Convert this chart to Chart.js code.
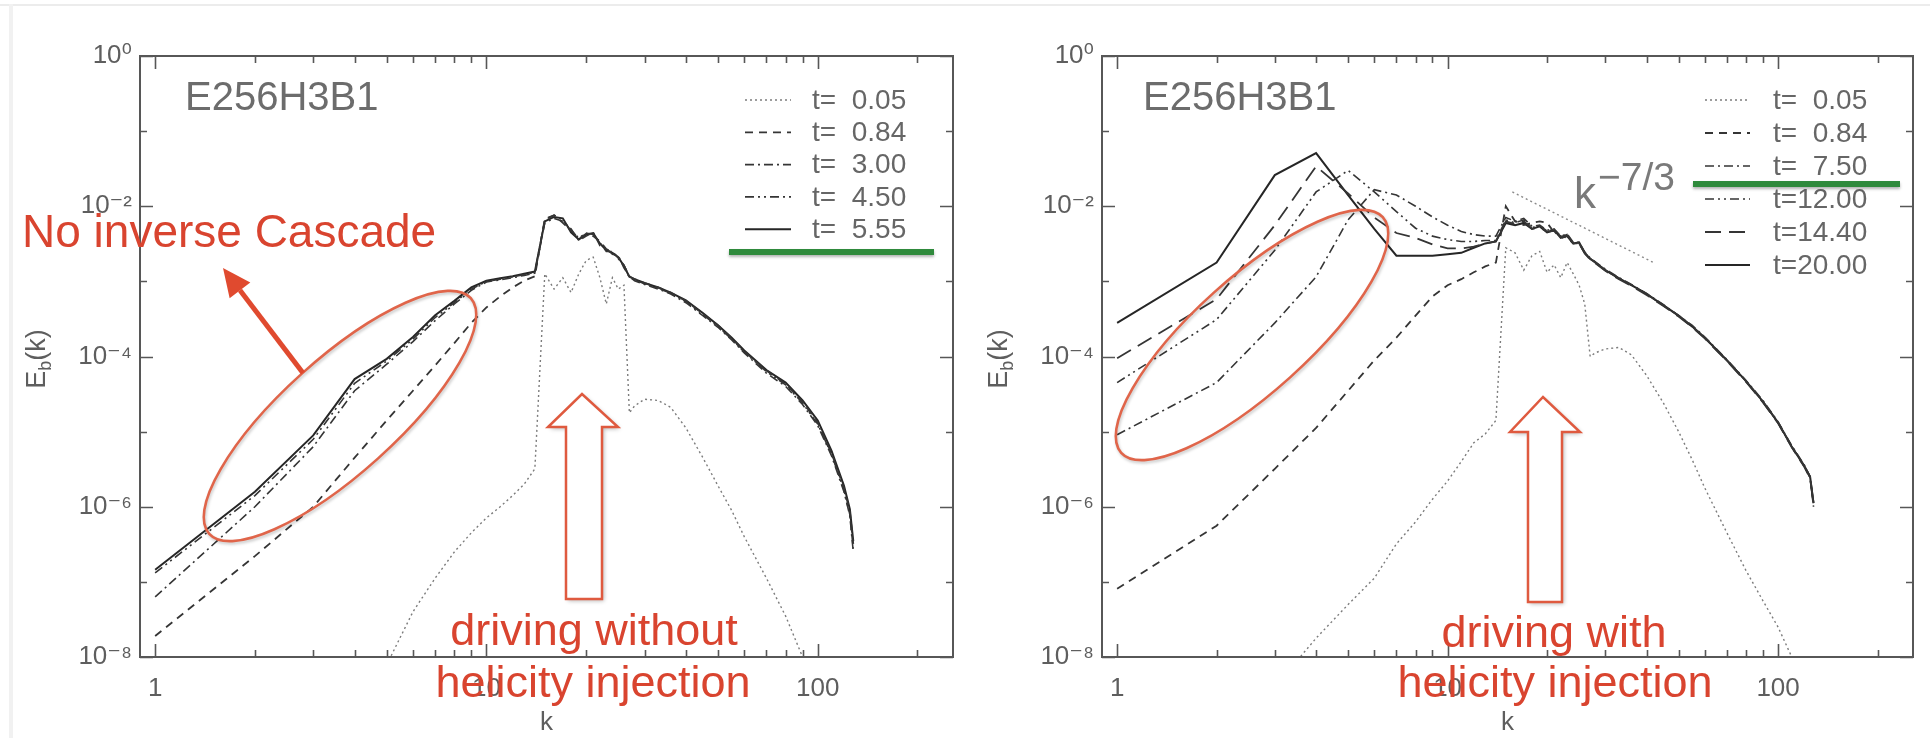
<!DOCTYPE html>
<html>
<head>
<meta charset="utf-8">
<script src="https://cdn.jsdelivr.net/npm/chart.js@4.4.1/dist/chart.umd.min.js"></script>
<style>
  html, body { margin: 0; padding: 0; background: #fff; }
  body { width: 1930px; height: 738px; position: relative; overflow: hidden; }
  canvas { position: absolute; top: 0; }
  #cLeft { left: 0; }
  #cRight { left: 965px; }
  .edge-top { position: absolute; left: 0; top: 4px; width: 1930px; height: 2px; background: #ececec; }
  .edge-left { position: absolute; left: 9px; top: 4px; width: 4px; height: 734px; background: #f1f1f1; }
</style>
</head>
<body>
<div class="edge-top"></div><div class="edge-left"></div>
<canvas id="cLeft" width="965" height="738"></canvas>
<canvas id="cRight" width="965" height="738"></canvas>
<script>
const FONT = "'Liberation Sans', 'DejaVu Sans', Arial, sans-serif";
const INK = '#5e5e5e';
const RED = '#d9442f';

// ─── DATA ─────────────────────────────────────────────────────────────────────
// wavenumbers where the spectra are read off
const kGrid = [1, 2, 3, 4, 5, 6, 7, 8, 9, 10, 11, 12, 13, 14, 15, 16, 17, 18, 19, 20,
  21, 22, 23, 24, 25, 26, 27, 28, 30, 33, 36, 40, 45, 50, 55, 60, 70, 80, 90, 100,
  110, 120, 125, 128];

const xTickVals   = [1, 2, 3, 4, 5, 6, 7, 8, 9, 10, 20, 30, 40, 50, 60, 70, 80, 90, 100, 200];
const xTickLabels = ['1', '', '', '', '', '', '', '', '', '10', '', '', '', '', '', '', '', '', '100', ''];
const yTickVals   = [1e-8, 1e-7, 1e-6, 1e-5, 1e-4, 1e-3, 1e-2, 1e-1, 1];
const yTickLabels = ['10⁻⁸', '', '10⁻⁶', '', '10⁻⁴', '', '10⁻²', '', '10⁰'];

// left panel: driving without helicity injection
const leftLabels = ['t=\u20070.05', 't=\u20070.84', 't=\u20073.00', 't=\u20074.50', 't=\u20075.55'];
const leftStyles = ['dotted', 'dashed', 'dashDot', 'dashDotDot', 'solid'];
const eL_005 = [null, null, null, null, 7.9e-9, 4.0e-8, 1.12e-7, 2.5e-7, 4.5e-7, 7.1e-7, 1.0e-6, 1.41e-6, 2.0e-6, 3.2e-6,
  1.26e-3, 7.9e-4, 1.12e-3, 7.1e-4, 1.26e-3, 1.9e-3, 2.1e-3, 1.12e-3, 5.0e-4, 1.12e-3, 7.9e-4, 8.9e-4, 1.78e-5, 2.2e-5,
  2.7e-5, 2.6e-5, 2.1e-5, 1.12e-5, 4.5e-6, 1.9e-6, 8.9e-7, 4.0e-7, 1.12e-7, 3.5e-8, 1.0e-8, 4.0e-9, null, null, null, null];
const eL_084 = [1.9e-8, 2.2e-7, 1.0e-6, 4.5e-6, 1.41e-5, 3.5e-5, 7.6e-5, 1.51e-4, 2.8e-4, 4.5e-4, 6.3e-4, 8.3e-4, 1.02e-3, 1.17e-3,
  6.8e-3, 7.6e-3, 6.0e-3, 4.8e-3, 3.7e-3, 4.3e-3, 4.0e-3, 3.4e-3, 2.7e-3, 2.45e-3, 2.05e-3, 1.62e-3, 1.17e-3, 1.07e-3,
  9.5e-4, 8.3e-4, 7.1e-4, 5.5e-4, 3.7e-4, 2.6e-4, 1.74e-4, 1.17e-4, 6.5e-5, 4.3e-5, 2.5e-5, 1.32e-5, 5.2e-6, 1.78e-6, 8.7e-7, 3.2e-7];
const eL_300 = [6.3e-8, 1.0e-6, 6.3e-6, 3.5e-5, 7.9e-5, 1.58e-4, 3.0e-4, 5.0e-4, 7.6e-4, 9.8e-4, 1.05e-3, 1.12e-3, 1.2e-3, 1.29e-3,
  6.0e-3, 6.9e-3, 6.3e-3, 5.0e-3, 3.5e-3, 4.0e-3, 4.5e-3, 3.0e-3, 2.75e-3, 2.3e-3, 2.2e-3, 1.51e-3, 1.17e-3, 1.02e-3,
  9.1e-4, 7.9e-4, 6.8e-4, 5.2e-4, 3.5e-4, 2.45e-4, 1.66e-4, 1.12e-4, 6.0e-5, 4.0e-5, 2.3e-5, 1.2e-5, 4.8e-6, 1.58e-6, 7.6e-7, 2.5e-7];
const eL_450 = [1.32e-7, 1.41e-6, 7.9e-6, 4.4e-5, 8.7e-5, 1.70e-4, 3.3e-4, 5.2e-4, 7.9e-4, 1.0e-3, 1.07e-3, 1.15e-3, 1.23e-3, 1.32e-3,
  6.6e-3, 7.6e-3, 6.6e-3, 4.7e-3, 3.8e-3, 4.4e-3, 4.2e-3, 3.3e-3, 2.5e-3, 2.5e-3, 2.0e-3, 1.66e-3, 1.12e-3, 1.05e-3,
  9.3e-4, 8.1e-4, 6.9e-4, 5.4e-4, 3.6e-4, 2.5e-4, 1.70e-4, 1.15e-4, 6.3e-5, 4.2e-5, 2.4e-5, 1.26e-5, 5.0e-6, 1.66e-6, 7.9e-7, 2.8e-7];
const eL_555 = [1.45e-7, 1.58e-6, 8.9e-6, 5.0e-5, 9.3e-5, 1.82e-4, 3.55e-4, 5.5e-4, 8.3e-4, 1.02e-3, 1.10e-3, 1.17e-3, 1.26e-3, 1.35e-3,
  6.3e-3, 7.2e-3, 6.9e-3, 4.5e-3, 3.6e-3, 4.2e-3, 4.4e-3, 3.2e-3, 2.6e-3, 2.4e-3, 2.1e-3, 1.6e-3, 1.15e-3, 1.07e-3,
  9.5e-4, 8.3e-4, 7.1e-4, 5.6e-4, 3.8e-4, 2.6e-4, 1.78e-4, 1.2e-4, 6.6e-5, 4.5e-5, 2.6e-5, 1.41e-5, 5.6e-6, 1.9e-6, 9.3e-7, 3.5e-7];

// right panel: driving with helicity injection
const rightLabels = ['t=\u20070.05', 't=\u20070.84', 't=\u20077.50', 't=12.00', 't=14.40', 't=20.00'];
const rightStyles = ['dotted', 'dashed', 'dashDot', 'dashDotDot', 'longDash', 'solid'];
const eR_005 = [null, null, 4.0e-9, 1.78e-8, 5.0e-8, 1.12e-7, 3.2e-7, 6.3e-7, 1.26e-6, 2.2e-6, 4.0e-6, 7.1e-6, 9.3e-6, 1.41e-5,
  2.8e-3, 2.4e-3, 1.41e-3, 2.2e-3, 2.5e-3, 1.32e-3, 1.66e-3, 1.12e-3, 1.78e-3, 1.26e-3, 8.9e-4, 5.0e-4, 1.0e-4, 1.12e-4,
  1.26e-4, 1.32e-4, 1.05e-4, 5.6e-5, 2.4e-5, 1.0e-5, 4.2e-6, 1.78e-6, 4.5e-7, 1.41e-7, 5.6e-8, 2.5e-8, 1.0e-8, 4.0e-9, null, null];
const eR_084 = [8.1e-8, 5.6e-7, 3.2e-6, 1.12e-5, 3.5e-5, 8.9e-5, 1.78e-4, 3.5e-4, 6.3e-4, 8.9e-4, 1.07e-3, 1.32e-3, 1.58e-3, 1.78e-3,
  1.0e-2, 6.3e-3, 5.6e-3, 6.0e-3, 6.3e-3, 6.0e-3, 4.5e-3, 4.0e-3, 3.8e-3, 3.2e-3, 3.2e-3, 2.4e-3, 2.0e-3, 1.78e-3,
  1.41e-3, 1.1e-3, 8.9e-4, 6.8e-4, 4.8e-4, 3.5e-4, 2.5e-4, 1.78e-4, 8.9e-5, 4.7e-5, 2.5e-5, 1.32e-5, 6.3e-6, 3.5e-6, 2.5e-6, 1.12e-6];
const eR_750 = [9.1e-6, 4.5e-5, 2.8e-4, 1.15e-3, 6.6e-3, 1.66e-2, 1.41e-2, 1.0e-2, 7.2e-3, 5.6e-3, 4.6e-3, 4.2e-3, 4.0e-3, 4.0e-3,
  7.1e-3, 6.3e-3, 6.9e-3, 5.4e-3, 5.6e-3, 4.8e-3, 5.0e-3, 4.0e-3, 4.3e-3, 3.3e-3, 3.3e-3, 2.45e-3, 2.05e-3, 1.82e-3,
  1.45e-3, 1.12e-3, 9.1e-4, 6.9e-4, 4.9e-4, 3.5e-4, 2.6e-4, 1.82e-4, 9.1e-5, 4.8e-5, 2.6e-5, 1.35e-5, 6.5e-6, 3.6e-6, 2.5e-6, 1.17e-6];
const eR_1200 = [4.5e-5, 3.1e-4, 2.6e-3, 1.55e-2, 3.0e-2, 1.55e-2, 8.5e-3, 5.1e-3, 4.0e-3, 3.6e-3, 3.4e-3, 3.4e-3, 3.5e-3, 3.5e-3,
  6.6e-3, 6.0e-3, 6.6e-3, 5.2e-3, 5.5e-3, 4.7e-3, 4.9e-3, 3.9e-3, 4.2e-3, 3.2e-3, 3.2e-3, 2.4e-3, 2.0e-3, 1.78e-3,
  1.41e-3, 1.1e-3, 8.9e-4, 6.8e-4, 4.8e-4, 3.5e-4, 2.5e-4, 1.78e-4, 8.9e-5, 4.7e-5, 2.5e-5, 1.32e-5, 6.3e-6, 3.5e-6, 2.4e-6, 1.0e-6];
const eR_1440 = [9.5e-5, 5.8e-4, 5.6e-3, 3.4e-2, 1.48e-2, 7.1e-3, 4.4e-3, 3.8e-3, 3.1e-3, 2.75e-3, 2.75e-3, 2.9e-3, 3.2e-3, 3.4e-3,
  6.3e-3, 5.8e-3, 6.3e-3, 5.0e-3, 5.2e-3, 4.6e-3, 4.7e-3, 3.7e-3, 4.1e-3, 3.2e-3, 3.2e-3, 2.35e-3, 1.95e-3, 1.74e-3,
  1.38e-3, 1.07e-3, 8.7e-4, 6.6e-4, 4.7e-4, 3.4e-4, 2.45e-4, 1.74e-4, 8.7e-5, 4.6e-5, 2.45e-5, 1.29e-5, 6.2e-6, 3.4e-6, 2.4e-6, 1.07e-6];
const eR_2000 = [2.8e-4, 1.78e-3, 2.6e-2, 5.1e-2, 1.41e-2, 5.0e-3, 2.2e-3, 2.2e-3, 2.2e-3, 2.3e-3, 2.4e-3, 2.8e-3, 3.2e-3, 3.4e-3,
  6.0e-3, 5.6e-3, 6.0e-3, 5.0e-3, 5.4e-3, 4.5e-3, 4.8e-3, 3.8e-3, 4.0e-3, 3.2e-3, 3.3e-3, 2.4e-3, 2.0e-3, 1.78e-3,
  1.41e-3, 1.1e-3, 8.9e-4, 6.8e-4, 4.8e-4, 3.5e-4, 2.5e-4, 1.78e-4, 8.9e-5, 4.7e-5, 2.5e-5, 1.32e-5, 6.3e-6, 3.5e-6, 2.5e-6, 1.12e-6];

// k^-7/3 guide line end points
const kRef = [15.7, 42];
const eRef = [1.55e-2, 1.78e-3];

// ─── STYLES ───────────────────────────────────────────────────────────────────
const STYLE = {
  dotted:     { dash: [2, 3],             color: '#7c7c7c', width: 1.4 },
  dashed:     { dash: [8, 6],             color: '#353535', width: 1.8 },
  dashDot:    { dash: [9, 4, 2, 4],       color: '#353535', width: 1.6 },
  dashDotDot: { dash: [9, 4, 2, 4, 2, 4], color: '#353535', width: 1.6 },
  longDash:   { dash: [16, 8],            color: '#353535', width: 1.8 },
  solid:      { dash: [],                 color: '#262626', width: 2 }
};

function makeSets(series, styles, labels) {
  return series.map((vals, i) => {
    const st = STYLE[styles[i]];
    return {
      label: labels[i],
      data: kGrid.map((k, j) => ({ x: k, y: vals[j] })),
      borderColor: st.color, borderWidth: st.width, borderDash: st.dash,
      pointRadius: 0, tension: 0, fill: false, spanGaps: false
    };
  });
}

// ─── DECORATION PLUGIN (frame, inward ticks, legend, annotations) ────────────
function hollowUp(ctx, a) {
  ctx.save();
  ctx.shadowColor = 'rgba(0,0,0,0.28)'; ctx.shadowBlur = 4; ctx.shadowOffsetX = 2; ctx.shadowOffsetY = 2;
  ctx.beginPath();
  ctx.moveTo(a.shaftL, a.bottom); ctx.lineTo(a.shaftL, a.headY); ctx.lineTo(a.headL, a.headY);
  ctx.lineTo(a.tip[0], a.tip[1]); ctx.lineTo(a.headR, a.headY); ctx.lineTo(a.shaftR, a.headY);
  ctx.lineTo(a.shaftR, a.bottom); ctx.closePath();
  ctx.fillStyle = '#fff'; ctx.fill();
  ctx.shadowColor = 'transparent';
  ctx.strokeStyle = '#df5a3f'; ctx.lineWidth = 2.5; ctx.stroke();
  ctx.restore();
}

const decor = {
  id: 'decor',
  afterDatasetsDraw(chart, args, o) {
    const { ctx, chartArea: a, scales: { x, y } } = chart;
    ctx.save();
    ctx.strokeStyle = '#575757';
    ctx.lineWidth = 2;
    ctx.strokeRect(a.left, a.top, a.right - a.left, a.bottom - a.top);
    ctx.lineWidth = 1.6;
    ctx.beginPath();
    xTickVals.forEach((v, i) => {
      const px = Math.round(x.getPixelForValue(v)) + 0.5, len = xTickLabels[i] ? 13 : 7;
      ctx.moveTo(px, a.bottom); ctx.lineTo(px, a.bottom - len);
      ctx.moveTo(px, a.top); ctx.lineTo(px, a.top + len);
    });
    yTickVals.forEach((v, i) => {
      const py = Math.round(y.getPixelForValue(v)) + 0.5, len = yTickLabels[i] ? 13 : 7;
      ctx.moveTo(a.left, py); ctx.lineTo(a.left + len, py);
      ctx.moveTo(a.right, py); ctx.lineTo(a.right - len, py);
    });
    ctx.stroke();
    ctx.restore();
  },
  afterDraw(chart, args, o) {
    const { ctx } = chart;
    ctx.save();

    // y axis title E_b(k)
    ctx.translate(o.yTitle[0], o.yTitle[1]);
    ctx.rotate(-Math.PI / 2);
    ctx.fillStyle = INK; ctx.textBaseline = 'alphabetic'; ctx.textAlign = 'left';
    const big = `27px ${FONT}`, small = `18px ${FONT}`;
    ctx.font = big; const wE = ctx.measureText('E').width, wK = ctx.measureText('(k)').width;
    ctx.font = small; const wB = ctx.measureText('b').width;
    let cx = -(wE + wB + wK) / 2;
    ctx.font = big; ctx.fillText('E', cx, 0); cx += wE;
    ctx.font = small; ctx.fillText('b', cx, 6); cx += wB;
    ctx.font = big; ctx.fillText('(k)', cx, 0);
    ctx.setTransform(1, 0, 0, 1, 0, 0);

    // run name
    ctx.fillStyle = '#6c6c6c';
    ctx.font = `40px ${FONT}`;
    ctx.fillText('E256H3B1', o.runPos[0], o.runPos[1]);

    // legend
    const L = o.legend;
    ctx.font = `28px ${FONT}`;
    ctx.textBaseline = 'middle';
    chart.data.datasets.filter(d => !d.noLegend).forEach((d, i) => {
      const yy = L.y0 + i * L.dy;
      ctx.strokeStyle = d.borderColor; ctx.lineWidth = d.borderWidth; ctx.setLineDash(d.borderDash);
      ctx.beginPath(); ctx.moveTo(L.x0, yy); ctx.lineTo(L.x1, yy); ctx.stroke();
      ctx.setLineDash([]);
      ctx.fillStyle = '#666';
      ctx.fillText(d.label, L.tx, yy + 1);
    });

    // k^-7/3 label
    if (o.slope) {
      ctx.fillStyle = '#7a7a7a'; ctx.textBaseline = 'alphabetic';
      ctx.font = `44px ${FONT}`; ctx.fillText('k', o.slope[0], o.slope[1]);
      ctx.font = `39px ${FONT}`; ctx.fillText('−7/3', o.slope[2], o.slope[3]);
    }

    // green underline
    ctx.save();
    ctx.shadowColor = 'rgba(0,0,0,0.3)'; ctx.shadowBlur = 3; ctx.shadowOffsetY = 2;
    ctx.strokeStyle = '#2f8a3c'; ctx.lineWidth = 6;
    ctx.beginPath(); ctx.moveTo(o.green[0], o.green[2]); ctx.lineTo(o.green[1], o.green[2]); ctx.stroke();
    ctx.restore();

    // red ellipse
    ctx.save();
    ctx.shadowColor = 'rgba(0,0,0,0.22)'; ctx.shadowBlur = 3; ctx.shadowOffsetX = 1; ctx.shadowOffsetY = 2;
    ctx.strokeStyle = '#e0654a'; ctx.lineWidth = 2.6;
    ctx.beginPath();
    ctx.ellipse(o.ellipse[0], o.ellipse[1], 176, 57, -42 * Math.PI / 180, 0, 2 * Math.PI);
    ctx.stroke();
    ctx.restore();

    // hollow upward arrow
    hollowUp(ctx, o.arrowUp);

    // red captions
    ctx.fillStyle = RED; ctx.textAlign = 'center'; ctx.textBaseline = 'alphabetic';
    ctx.font = `45px ${FONT}`;
    o.words.forEach(w => ctx.fillText(w.text, w.x, w.y));

    // callout with solid arrow
    if (o.callout) {
      const c = o.callout;
      ctx.textAlign = 'left';
      ctx.font = `46px ${FONT}`;
      ctx.fillText(c.text, c.x, c.y);
      const [x0, y0] = c.from, [x1, y1] = c.to;
      const ang = Math.atan2(y1 - y0, x1 - x0), hl = 28, hw = 13;
      const bx = x1 - hl * Math.cos(ang), by = y1 - hl * Math.sin(ang);
      ctx.strokeStyle = '#e04a2f'; ctx.fillStyle = '#e04a2f'; ctx.lineWidth = 5;
      ctx.beginPath(); ctx.moveTo(x0, y0); ctx.lineTo(bx, by); ctx.stroke();
      ctx.beginPath();
      ctx.moveTo(x1, y1);
      ctx.lineTo(bx + hw * Math.sin(ang), by - hw * Math.cos(ang));
      ctx.lineTo(bx - hw * Math.sin(ang), by + hw * Math.cos(ang));
      ctx.closePath(); ctx.fill();
    }
    ctx.restore();
  }
};

// ─── CHARTS ───────────────────────────────────────────────────────────────────
function panelOptions(cfg) {
  const tickFont = { family: FONT, size: 26 };
  return {
    responsive: false, animation: false, devicePixelRatio: 1,
    layout: { autoPadding: false, padding: { left: 0, top: cfg.top, right: cfg.rightPad, bottom: 0 } },
    plugins: { legend: { display: false }, tooltip: { enabled: false }, decor: cfg },
    scales: {
      x: {
        type: 'logarithmic', position: 'bottom', bounds: 'data', min: 0.9, max: 256,
        afterBuildTicks: s => { s.ticks = xTickVals.map(v => ({ value: v })); },
        afterFit: s => { s.height = 738 - cfg.bottom; },
        grid: { display: false, drawTicks: false },
        border: { display: false },
        ticks: { autoSkip: false, maxRotation: 0, padding: 16, color: INK, font: tickFont,
                 callback: (v, i) => xTickLabels[i] },
        title: { display: true, text: 'k', color: INK, font: tickFont, padding: 0 }
      },
      y: {
        type: 'logarithmic', position: 'left', bounds: 'data', min: 1e-8, max: 1,
        afterBuildTicks: s => { s.ticks = yTickVals.map(v => ({ value: v })); },
        afterFit: s => { s.width = cfg.left; },
        grid: { display: false, drawTicks: false },
        border: { display: false },
        ticks: { autoSkip: false, padding: 8, color: INK, font: tickFont,
                 callback: (v, i) => yTickLabels[i] }
      }
    }
  };
}

const leftCfg = {
  left: 140, rightPad: 12, top: 56, bottom: 657,
  yTitle: [45, 359], runPos: [185, 110],
  legend: { x0: 745, x1: 791, tx: 812, y0: 100, dy: 32.3 },
  green: [729, 934, 252],
  ellipse: [340, 416],
  arrowUp: { tip: [582, 394], headY: 427, headL: 548, headR: 618, shaftL: 566, shaftR: 602, bottom: 599 },
  words: [{ text: 'driving without', x: 594, y: 645 }, { text: 'helicity injection', x: 593, y: 697 }],
  callout: { text: 'No inverse Cascade', x: 22, y: 247, from: [303, 373], to: [223, 268] }
};

const rightCfg = {
  left: 137, rightPad: 17, top: 56, bottom: 657,
  yTitle: [42, 359], runPos: [178, 110],
  legend: { x0: 740, x1: 785, tx: 808, y0: 100, dy: 33 },
  green: [728, 935, 184],
  ellipse: [287, 335],
  arrowUp: { tip: [578, 397], headY: 432, headL: 545, headR: 615, shaftL: 563, shaftR: 597, bottom: 602 },
  words: [{ text: 'driving with', x: 589, y: 647 }, { text: 'helicity injection', x: 590, y: 697 }],
  slope: [609, 208, 633, 190]
};

const refSet = {
  label: 'k^-7/3', noLegend: true,
  data: kRef.map((k, i) => ({ x: k, y: eRef[i] })),
  borderColor: '#8a8a8a', borderWidth: 1.4, borderDash: [2, 3], pointRadius: 0, tension: 0
};

new Chart(document.getElementById('cLeft'), {
  type: 'line',
  data: { datasets: makeSets([eL_005, eL_084, eL_300, eL_450, eL_555], leftStyles, leftLabels) },
  options: panelOptions(leftCfg),
  plugins: [decor]
});

new Chart(document.getElementById('cRight'), {
  type: 'line',
  data: { datasets: makeSets([eR_005, eR_084, eR_750, eR_1200, eR_1440, eR_2000], rightStyles, rightLabels).concat([refSet]) },
  options: panelOptions(rightCfg),
  plugins: [decor]
});
</script>
</body>
</html>
